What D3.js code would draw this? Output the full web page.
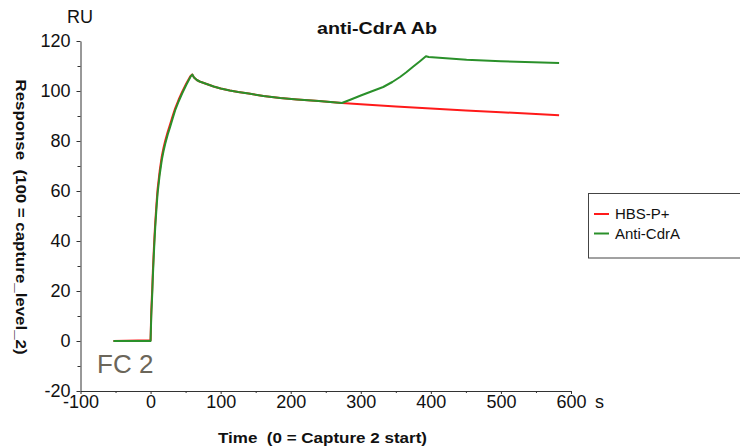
<!DOCTYPE html>
<html>
<head>
<meta charset="utf-8">
<script src="https://cdn.jsdelivr.net/npm/d3@7"></script>
<style>
  html, body { margin: 0; padding: 0; background: #fff; }
  svg { display: block; font-family: "Liberation Sans", Arial, sans-serif; }
</style>
</head>
<body>
<svg id="chart" width="740" height="448"></svg>
<script>
// ---- data ----
const chartTitle = "anti-CdrA Ab";
const seriesNames = ["HBS-P+", "Anti-CdrA"];
const seriesColors = ["#ff1a1a", "#2a902a"];
const xTicks = [-100, 0, 100, 200, 300, 400, 500, 600];
const yTicks = [-20, 0, 20, 40, 60, 80, 100, 120];

// HBS-P+ (reference injection)
const timeRed = [-53, 0, 1, 2.4, 3.3, 4.3, 5.5, 6.7, 8.3, 10, 13, 16, 18.5, 21, 24.5, 28, 31.5, 35, 40, 45, 51, 57, 59.5,
                 62, 66, 70, 75, 82, 90, 100, 113, 125, 140, 161, 185, 209, 240, 273, 300, 350, 400, 450, 500, 550, 583];
const valRed  = [0, 0.3, 12, 21, 28, 34.5, 41.5, 47.5, 54.3, 60.7, 68, 73.8, 77.3, 80.2, 83.7, 86.8, 90, 93, 96.5, 99.6, 103, 106, 106.6,
                 105.4, 104.4, 103.8, 103.3, 102.6, 101.8, 101, 100.2, 99.6, 99, 98, 97.2, 96.6, 96, 95.2, 94.7, 93.8, 93, 92.2, 91.5, 90.8, 90.3];

// Anti-CdrA
const timeGreen = [-53, 0, 1, 2.4, 3.3, 4.3, 5.5, 6.7, 8.3, 10, 13, 16, 18.5, 21, 24.5, 28, 31.5, 35, 40, 45, 51, 57, 59.5,
                   62, 66, 70, 75, 82, 90, 100, 113, 125, 140, 161, 185, 209, 240, 273,
                   285, 300, 315, 332, 345, 356, 365, 375, 384, 393, 397, 451, 500, 583];
const valGreen  = [0, 0, 10, 19, 26, 32.4, 39.5, 45.7, 52.5, 59, 66.5, 72.4, 76, 79, 82.6, 85.7, 89, 92.2, 95.8, 99, 102.5, 105.7, 106.6,
                   105.4, 104.4, 103.8, 103.3, 102.6, 101.8, 101, 100.2, 99.6, 99, 98, 97.2, 96.6, 96, 95.2,
                   96.5, 98.2, 99.8, 101.6, 103.6, 105.6, 107.5, 109.8, 111.8, 113.9, 113.6, 112.5, 111.9, 111.2];

// ---- chart ----
const svg = d3.select("#chart");
const x = d3.scaleLinear().domain([-100, 600]).range([80.5, 571]);
const y = d3.scaleLinear().domain([-20, 120]).range([391, 41]);

const axisColor = "#333";
const fmt = d => String(d);

// y axis
const yAxisG = svg.append("g").attr("transform", `translate(${x(-100)},0)`)
  .call(d3.axisLeft(y).tickValues(yTicks).tickFormat(fmt).tickSize(4).tickSizeOuter(0).tickPadding(6));
svg.append("g").attr("transform", `translate(${x(-100)},0)`)
  .call(d3.axisLeft(y).tickValues(d3.range(-10, 120, 20)).tickSize(3).tickFormat("").tickSizeOuter(0))
  .select(".domain").remove();

// x axis
const xAxisG = svg.append("g").attr("transform", `translate(0,${y(-20)})`)
  .call(d3.axisBottom(x).tickValues(xTicks).tickFormat(fmt).tickSize(3).tickSizeOuter(0).tickPadding(1));
svg.append("g").attr("transform", `translate(0,${y(-20)})`)
  .call(d3.axisBottom(x).tickValues(d3.range(-50, 600, 100)).tickSize(2).tickFormat("").tickSizeOuter(0))
  .select(".domain").remove();

svg.selectAll(".domain, .tick line").attr("stroke", axisColor);
yAxisG.selectAll("text").attr("font-size", 18).attr("fill", "#111")
  .attr("font-family", "Liberation Sans, Arial, sans-serif");
xAxisG.selectAll("text").attr("font-size", 18).attr("fill", "#111")
  .attr("font-family", "Liberation Sans, Arial, sans-serif");

// unit labels
svg.append("text").attr("x", 67).attr("y", 23).attr("font-size", 18).attr("fill", "#111").text("RU");
svg.append("text").attr("x", 595).attr("y", 408).attr("font-size", 18).attr("fill", "#111").text("s");

// title
svg.append("text").attr("x", 377).attr("y", 34).attr("text-anchor", "middle")
  .attr("font-size", 17).attr("font-weight", "bold").attr("fill", "#111")
  .attr("textLength", 120).attr("lengthAdjust", "spacingAndGlyphs").text(chartTitle);

// axis titles
svg.append("text").attr("x", 322.5).attr("y", 443).attr("text-anchor", "middle")
  .attr("font-size", 15).attr("font-weight", "bold").attr("fill", "#111")
  .attr("textLength", 209).attr("lengthAdjust", "spacingAndGlyphs")
  .style("white-space", "pre")
  .text("Time  (0 = Capture 2 start)");
svg.append("text").attr("transform", "translate(16,217) rotate(90)").attr("text-anchor", "middle")
  .attr("font-size", 15).attr("font-weight", "bold").attr("fill", "#111")
  .attr("textLength", 275).attr("lengthAdjust", "spacingAndGlyphs")
  .style("white-space", "pre")
  .text("Response  (100 = capture_level_2)");

// FC 2 label
svg.append("text").attr("x", 97).attr("y", 373).attr("font-size", 26).attr("fill", "#6b665a").text("FC 2");

// lines
const line = d3.line().x(d => x(d[0])).y(d => y(d[1]));
const redData = timeRed.map((t, i) => [t, valRed[i]]);
const greenData = timeGreen.map((t, i) => [t, valGreen[i]]);
svg.append("path").datum(redData).attr("d", line).attr("fill", "none")
  .attr("stroke", seriesColors[0]).attr("stroke-width", 2).attr("stroke-linejoin", "round");
svg.append("path").datum(greenData).attr("d", line).attr("fill", "none")
  .attr("stroke", seriesColors[1]).attr("stroke-width", 2).attr("stroke-linejoin", "round");

// legend
const lg = svg.append("g");
lg.append("rect").attr("x", 588.5).attr("y", 193.5).attr("width", 160).attr("height", 64.5)
  .attr("fill", "#fff").attr("stroke", "#444").attr("stroke-width", 1);
seriesNames.forEach((name, i) => {
  const yy = 214 + i * 19.5;
  lg.append("line").attr("x1", 594).attr("x2", 609).attr("y1", yy).attr("y2", yy)
    .attr("stroke", seriesColors[i]).attr("stroke-width", 2);
  lg.append("text").attr("x", 615).attr("y", yy + 5).attr("font-size", 15).attr("fill", "#111").text(name);
});
</script>
</body>
</html>
